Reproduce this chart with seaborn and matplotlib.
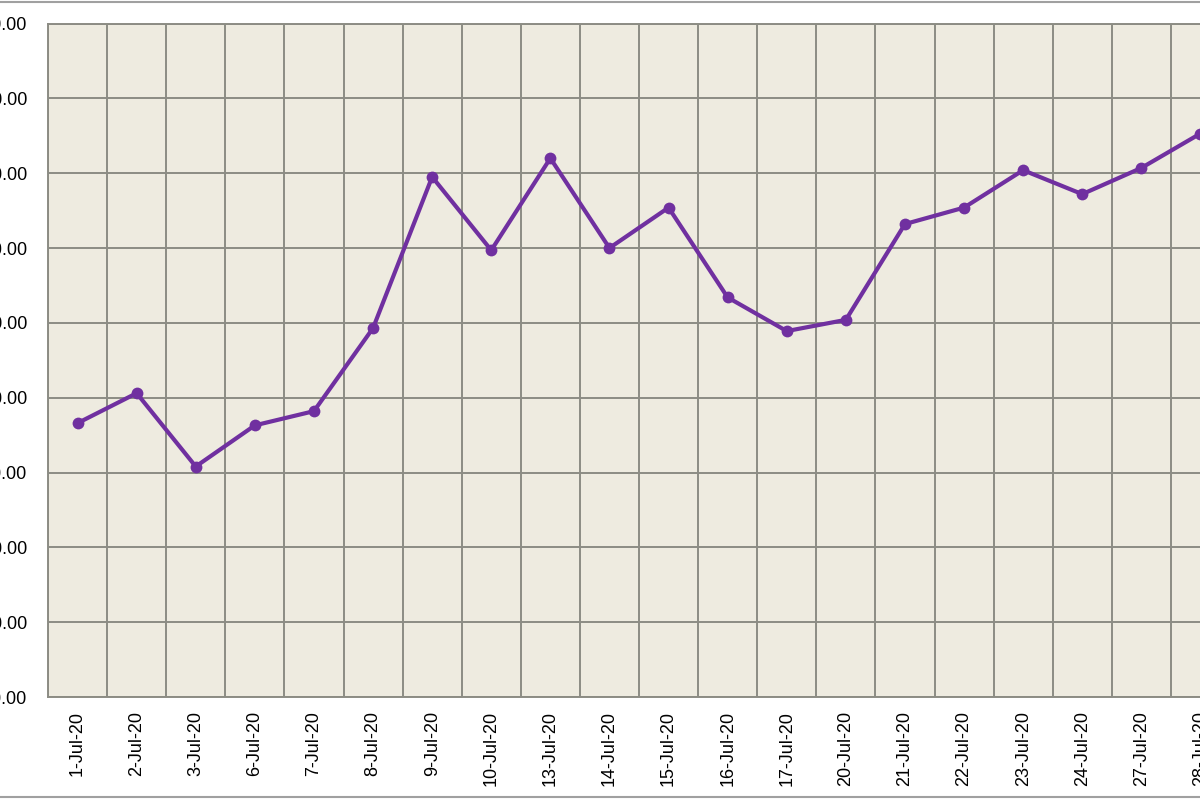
import numpy as np
import pandas as pd
import matplotlib
matplotlib.use("Agg")
import matplotlib.pyplot as plt
from matplotlib.patches import Rectangle
import seaborn as sns

# trading days in July 2020 and closing values
dates = ["1-Jul-20", "2-Jul-20", "3-Jul-20", "6-Jul-20", "7-Jul-20",
         "8-Jul-20", "9-Jul-20", "10-Jul-20", "13-Jul-20", "14-Jul-20",
         "15-Jul-20", "16-Jul-20", "17-Jul-20", "20-Jul-20", "21-Jul-20",
         "22-Jul-20", "23-Jul-20", "24-Jul-20", "27-Jul-20", "28-Jul-20"]
values = [46.6, 50.6, 40.8, 46.3, 48.2,
          59.3, 79.5, 69.7, 82.0, 70.0,
          75.4, 63.4, 58.9, 60.4, 73.2,
          75.4, 80.4, 77.2, 80.7, 85.3]
y_ticks = [10, 20, 30, 40, 50, 60, 70, 80, 90, 100]

sns.set_theme(style="white")
plt.rcParams['font.family'] = ['Liberation Sans', 'DejaVu Sans']

grid_col = "#8c8c84"
df = pd.DataFrame({"date": dates, "value": values})

fig = plt.figure(figsize=(12, 8), dpi=100)
fig.patch.set_facecolor("white")

# chart area border (partly cropped, like the screenshot)
fig.patches.append(Rectangle((-0.01, 0.004), 1.02, 0.993, transform=fig.transFigure,
                             fill=False, edgecolor="#a0a0a0", linewidth=1.5))

# plot area runs past the right edge of the image
ax = fig.add_axes([0.04, 0.12875, 0.985, 0.84185])
ax.set_facecolor("#eeebe0")

sns.lineplot(data=df, x="date", y="value", ax=ax, color="#7030a0",
             linewidth=3, marker="o", markersize=8.5, markeredgewidth=0,
             sort=False, zorder=3)

ax.set_xlim(-0.5, len(dates) - 0.5)
ax.set_ylim(y_ticks[0], y_ticks[-1])
ax.set_yticks(y_ticks)
ax.set_yticklabels([f"{v:.2f}" for v in y_ticks])
ax.set_xticks(range(len(dates)))
ax.set_xticklabels(dates, rotation=90, va="top", ha="center")
ax.set_xticks(np.arange(-0.5, len(dates), 1), minor=True)

ax.grid(False)
ax.yaxis.grid(True, which="major", color=grid_col, linewidth=1.4)
ax.xaxis.grid(True, which="minor", color=grid_col, linewidth=1.4)
ax.set_axisbelow(True)

ax.tick_params(axis="both", which="both", length=0, labelsize=13, colors="black")
ax.tick_params(axis="y", pad=15)
ax.tick_params(axis="x", pad=10)
for s in ax.spines.values():
    s.set_color(grid_col)
    s.set_linewidth(1.4)

ax.set_xlabel("")
ax.set_ylabel("")

fig.savefig("out.png", dpi=100)
